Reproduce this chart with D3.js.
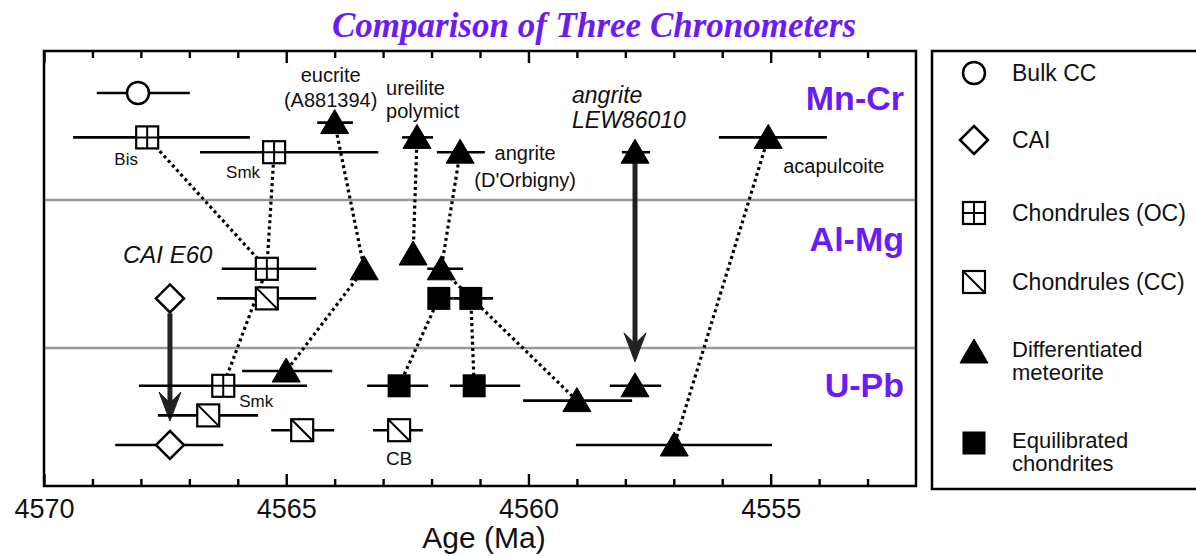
<!DOCTYPE html>
<html>
<head>
<meta charset="utf-8">
<script src="https://cdn.jsdelivr.net/npm/d3@7"></script>
<style>
  body { margin: 0; background: #fff; }
  svg { display: block; font-family: "Liberation Sans", Arial, sans-serif; }
</style>
</head>
<body>
<svg id="chart"></svg>
<script>
// chronometers (bands, top to bottom)
var methods = ["Mn-Cr", "Al-Mg", "U-Pb"];

// legend entries: marker type -> label lines
var markerTypes = ["bulk", "cai", "oc", "cc", "diff", "eq"];
var markerNames = [["Bulk CC"], ["CAI"], ["Chondrules (OC)"], ["Chondrules (CC)"],
                   ["Differentiated", "meteorite"], ["Equilibrated", "chondrites"]];

var majorTicks = [4570, 4565, 4560, 4555];
var minorTicks = [4569, 4568, 4567, 4566, 4564, 4563, 4562, 4561, 4559, 4558, 4557, 4556, 4554, 4553];

// ages in Ma; old / young = ends of the error bar; row = line inside the band
var mnCr = [
  {id: "mc-bulk",        type: "bulk", row: 0, age: 4568.06, old: 4568.91, young: 4566.99},
  {id: "mc-eucrite",     type: "diff", row: 2, age: 4564.00, old: 4564.36, young: 4563.62},
  {id: "mc-bis",         type: "oc",   row: 3, age: 4567.87, old: 4569.40, young: 4565.75},
  {id: "mc-ureilite",    type: "diff", row: 3, age: 4562.30, old: 4562.61, young: 4561.97},
  {id: "mc-acapulcoite", type: "diff", row: 3, age: 4555.05, old: 4556.07, young: 4553.84},
  {id: "mc-smk",         type: "oc",   row: 4, age: 4565.25, old: 4566.78, young: 4563.10},
  {id: "mc-dorbigny",    type: "diff", row: 4, age: 4561.41, old: 4561.89, young: 4560.90},
  {id: "mc-lew",         type: "diff", row: 4, age: 4557.80, old: 4558.07, young: 4557.49}
];
var alMg = [
  {id: "am-ureilite", type: "diff", row: 0, age: 4562.38},
  {id: "am-oc",       type: "oc",   row: 1, age: 4565.40, old: 4566.33, young: 4564.38},
  {id: "am-eucrite",  type: "diff", row: 1, age: 4563.39},
  {id: "am-dorbigny", type: "diff", row: 1, age: 4561.80, old: 4562.09, young: 4561.35},
  {id: "am-cai",      type: "cai",  row: 3, age: 4567.40},
  {id: "am-cc",       type: "cc",   row: 3, age: 4565.40, old: 4566.43, young: 4564.38},
  {id: "am-eq1",      type: "eq",   row: 3, age: 4561.85, old: 4562.05, young: 4561.55},
  {id: "am-eq2",      type: "eq",   row: 3, age: 4561.19, old: 4561.55, young: 4560.73}
];
var uPb = [
  {id: "up-eucrite",     type: "diff", row: 0, age: 4565.00, old: 4565.91, young: 4564.05},
  {id: "up-smk",         type: "oc",   row: 1, age: 4566.30, old: 4568.04, young: 4564.57},
  {id: "up-eq1",         type: "eq",   row: 1, age: 4562.67, old: 4563.33, young: 4562.07},
  {id: "up-eq2",         type: "eq",   row: 1, age: 4561.12, old: 4561.62, young: 4560.17},
  {id: "up-lew",         type: "diff", row: 1, age: 4557.80, old: 4558.32, young: 4557.26},
  {id: "up-dorbigny",    type: "diff", row: 2, age: 4559.00, old: 4560.11, young: 4557.86},
  {id: "up-cc",          type: "cc",   row: 3, age: 4566.61, old: 4567.65, young: 4565.58},
  {id: "up-cc2",         type: "cc",   row: 4, age: 4564.67, old: 4565.31, young: 4564.01},
  {id: "up-cb",          type: "cc",   row: 4, age: 4562.67, old: 4563.21, young: 4562.18},
  {id: "up-cai",         type: "cai",  row: 5, age: 4567.40, old: 4568.53, young: 4566.30},
  {id: "up-acapulcoite", type: "diff", row: 5, age: 4556.99, old: 4559.02, young: 4554.97}
];

// dotted links and arrows between the same object in two systems
var links = [["mc-bis", "am-oc"], ["mc-smk", "am-oc"], ["am-oc", "up-smk"],
             ["mc-eucrite", "am-eucrite"], ["am-eucrite", "up-eucrite"],
             ["mc-ureilite", "am-ureilite"], ["mc-dorbigny", "am-dorbigny"],
             ["am-dorbigny", "up-dorbigny"], ["am-eq1", "up-eq1"], ["am-eq2", "up-eq2"],
             ["mc-acapulcoite", "up-acapulcoite"]];
var arrows = [["am-cai", "up-cai"], ["mc-lew", "up-lew"]];

// text notes attached to points
var notes = [
  {at: "mc-eucrite",     lines: ["eucrite", "(A881394)"]},
  {at: "mc-ureilite",    lines: ["ureilite", "polymict"]},
  {at: "mc-dorbigny",    lines: ["angrite", "(D'Orbigny)"]},
  {at: "mc-lew",         lines: ["angrite", "LEW86010"]},
  {at: "mc-acapulcoite", lines: ["acapulcoite"]},
  {at: "mc-bis",         lines: ["Bis"]},
  {at: "mc-smk",         lines: ["Smk"]},
  {at: "am-cai",         lines: ["CAI E60"]},
  {at: "up-smk",         lines: ["Smk"]},
  {at: "up-cb",          lines: ["CB"]}
];

var width = 1196, height = 556;
var plotLeft = 44, plotRight = 916, plotTop = 51, plotBottom = 486;
var purple = "#6a1cf6";

var svg = d3.select("#chart").attr("width", width).attr("height", height);

var x = d3.scaleLinear().domain([4570, 4552]).range([plotLeft, plotRight]);

// band layout: first row y and row spacing
var bandBase = {"Mn-Cr": 93, "Al-Mg": 254, "U-Pb": 371};
var rowStep = 14.8;
var bandLines = [200, 348];
var labelBaseline = {"Mn-Cr": 110, "Al-Mg": 251, "U-Pb": 397};

var all = [];
[mnCr, alMg, uPb].forEach(function(arr, i) {
  arr.forEach(function(d) { d.method = methods[i]; all.push(d); });
});
var y = function(d) { return bandBase[d.method] + d.row * rowStep; };
var byId = {};
all.forEach(function(d) { byId[d.id] = d; });

// title
svg.append("text")
   .attr("x", 594).attr("y", 37)
   .attr("text-anchor", "middle")
   .attr("font-family", "'Liberation Serif', 'Times New Roman', serif")
   .attr("font-weight", "bold").attr("font-style", "italic")
   .attr("font-size", 35)
   .attr("fill", purple)
   .text("Comparison of Three Chronometers");

// band separators
svg.selectAll(".sep").data(bandLines).join("line")
   .attr("class", "sep")
   .attr("x1", plotLeft).attr("x2", plotRight)
   .attr("y1", d => d).attr("y2", d => d)
   .attr("stroke", "#999").attr("stroke-width", 2.5);

// band names
svg.selectAll(".band").data(methods).join("text")
   .attr("class", "band")
   .attr("x", 904).attr("y", d => labelBaseline[d])
   .attr("text-anchor", "end")
   .attr("font-weight", "bold").attr("font-size", 34)
   .attr("fill", purple)
   .text(d => d);

// dotted links
svg.append("g").selectAll("line").data(links).join("line")
   .attr("x1", d => x(byId[d[0]].age)).attr("y1", d => y(byId[d[0]]))
   .attr("x2", d => x(byId[d[1]].age)).attr("y2", d => y(byId[d[1]]))
   .attr("stroke", "#000").attr("stroke-width", 3.2)
   .attr("stroke-dasharray", "3 3.2");

// arrows
var ag = svg.append("g").attr("fill", "#222").attr("stroke", "#222");
arrows.forEach(function(a) {
  var s = byId[a[0]], t = byId[a[1]];
  var ax = x(s.age), y0 = y(s) + (s.type === "cai" ? 15 : 11), tip = y(t) - 24;
  ag.append("line").attr("x1", ax).attr("x2", ax).attr("y1", y0).attr("y2", tip - 12)
    .attr("stroke-width", 5);
  ag.append("path")
    .attr("d", "M" + ax + "," + tip + " L" + (ax - 11) + "," + (tip - 29) +
               " L" + ax + "," + (tip - 18) + " L" + (ax + 11) + "," + (tip - 29) + " Z")
    .attr("stroke-width", 1);
});

// error bars
svg.append("g").selectAll("line").data(all.filter(d => d.old !== undefined)).join("line")
   .attr("x1", d => x(d.old)).attr("x2", d => x(d.young))
   .attr("y1", d => y(d)).attr("y2", d => y(d))
   .attr("stroke", "#000").attr("stroke-width", 2.6);

function drawMarker(g, type) {
  if (type === "bulk") {
    g.append("circle").attr("r", 11).attr("fill", "#fff").attr("stroke", "#000").attr("stroke-width", 2.5);
  } else if (type === "cai") {
    g.append("path").attr("d", "M0,-14L14,0L0,14L-14,0Z")
     .attr("fill", "#fff").attr("stroke", "#000").attr("stroke-width", 2.5);
  } else if (type === "oc" || type === "cc") {
    g.append("rect").attr("x", -11).attr("y", -11).attr("width", 22).attr("height", 22)
     .attr("fill", "#fff").attr("stroke", "#000").attr("stroke-width", 2.2);
    g.append("path").attr("d", type === "oc" ? "M0,-11V11M-11,0H11" : "M-11,-11L11,11")
     .attr("stroke", "#000").attr("stroke-width", 2);
  } else if (type === "diff") {
    g.append("path").attr("d", "M0,-13L14,11L-14,11Z")
     .attr("fill", "#000").attr("stroke", "#000").attr("stroke-width", 1);
  } else if (type === "eq") {
    g.append("rect").attr("x", -11.5).attr("y", -11.5).attr("width", 23).attr("height", 23)
     .attr("fill", "#000");
  }
}

svg.append("g").selectAll("g").data(all).join("g")
   .attr("transform", d => "translate(" + x(d.age) + "," + y(d) + ")")
   .each(function(d) { drawMarker(d3.select(this), d.type); });

// note placement: offset from the point, anchor, size, line gap, italic
var noteLayout = {
  "mc-eucrite":     {dx: -4,  dy: -41, anchor: "middle", size: 20, gap: 25},
  "mc-ureilite":    {dx: -31, dy: -42, anchor: "start",  size: 20, gap: 23},
  "mc-dorbigny":    {dx: 65,  dy: 8,   anchor: "middle", size: 20, gap: 27},
  "mc-lew":         {dx: -63, dy: -49, anchor: "start",  size: 23, gap: 25, italic: true},
  "mc-acapulcoite": {dx: 15,  dy: 36,  anchor: "start",  size: 20, gap: 0},
  "mc-bis":         {dx: -21, dy: 28,  anchor: "middle", size: 17, gap: 0},
  "mc-smk":         {dx: -14, dy: 26,  anchor: "end",    size: 17, gap: 0},
  "am-cai":         {dx: -47, dy: -35, anchor: "start",  size: 24, gap: 0, italic: true},
  "up-smk":         {dx: 16,  dy: 21,  anchor: "start",  size: 17, gap: 0},
  "up-cb":          {dx: 0,   dy: 35,  anchor: "middle", size: 19, gap: 0}
};
notes.forEach(function(n) {
  var p = byId[n.at], L = noteLayout[n.at];
  var t = svg.append("text")
     .attr("text-anchor", L.anchor)
     .attr("font-size", L.size)
     .attr("font-style", L.italic ? "italic" : null)
     .attr("fill", "#111");
  n.lines.forEach(function(s, i) {
    t.append("tspan").attr("x", x(p.age) + L.dx).attr("y", y(p) + L.dy + i * L.gap).text(s);
  });
});

svg.append("text")
   .attr("x", (plotLeft + plotRight) / 2 + 4).attr("y", 548)
   .attr("text-anchor", "middle").attr("font-size", 30).attr("fill", "#111")
   .text("Age (Ma)");

// plot frame
svg.append("rect")
   .attr("x", plotLeft).attr("y", plotTop)
   .attr("width", plotRight - plotLeft).attr("height", plotBottom - plotTop)
   .attr("fill", "none").attr("stroke", "#000").attr("stroke-width", 2.5);

// axes, ticks pointing inward on top and bottom
function styleAxis(g) {
  g.select(".domain").remove();
  g.selectAll(".tick line").attr("stroke", "#000").attr("stroke-width", 2.4);
}
svg.append("g").attr("class", "axis").attr("transform", "translate(0," + plotBottom + ")")
   .call(d3.axisBottom(x).tickValues(minorTicks).tickSize(-7).tickFormat(""))
   .call(styleAxis);
svg.append("g").attr("class", "axis").attr("transform", "translate(0," + plotBottom + ")")
   .call(d3.axisBottom(x).tickValues(majorTicks).tickSize(-12).tickPadding(13).tickFormat(d3.format("d")))
   .call(styleAxis)
   .call(g => g.selectAll("text").attr("font-size", 27).attr("fill", "#111")
               .attr("font-family", "'Liberation Sans', Arial, sans-serif"));
svg.append("g").attr("class", "axis").attr("transform", "translate(0," + plotTop + ")")
   .call(d3.axisTop(x).tickValues(minorTicks).tickSize(-7).tickFormat(""))
   .call(styleAxis);
svg.append("g").attr("class", "axis").attr("transform", "translate(0," + plotTop + ")")
   .call(d3.axisTop(x).tickValues(majorTicks).tickSize(-12).tickFormat(""))
   .call(styleAxis);

// legend
svg.append("rect")
   .attr("x", 932).attr("y", 51).attr("width", 300).attr("height", 438)
   .attr("fill", "none").attr("stroke", "#000").attr("stroke-width", 2.5);
var legendY = [73, 140, 213, 282, 352, 443];
var lg = svg.append("g").selectAll("g").data(markerTypes).join("g")
   .attr("transform", (d, i) => "translate(974," + legendY[i] + ")");
lg.each(function(d) { drawMarker(d3.select(this), d); });
lg.append("text")
   .attr("fill", "#111")
   .attr("font-size", (d, i) => markerNames[i].length > 1 ? 22 : 23)
   .selectAll("tspan").data((d, i) => markerNames[i].map((s, j, arr) => ({s: s, j: j, n: arr.length})))
   .join("tspan")
   .attr("x", 38)
   .attr("y", d => d.n === 1 ? 8 : 5 + d.j * 23)
   .text(d => d.s);
</script>
</body>
</html>
